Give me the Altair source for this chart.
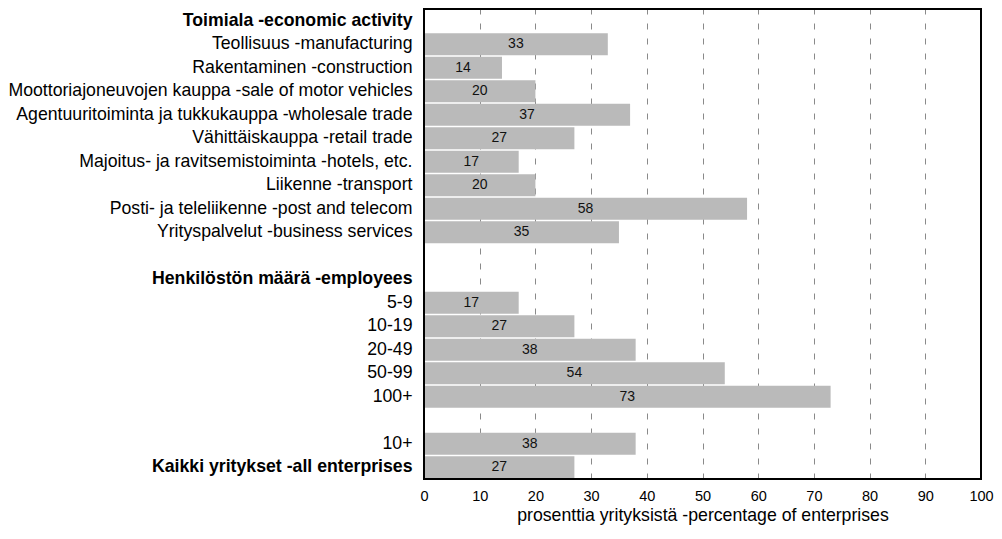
import json
import altair as alt
import pandas as pd

H1 = "Toimiala -economic activity"
H2 = "Henkilöstön määrä -employees"
ALL = "Kaikki yritykset -all enterprises"

activity_labels = [
    "Teollisuus -manufacturing",
    "Rakentaminen -construction",
    "Moottoriajoneuvojen kauppa -sale of motor vehicles",
    "Agentuuritoiminta ja tukkukauppa -wholesale trade",
    "Vähittäiskauppa -retail trade",
    "Majoitus- ja ravitsemistoiminta -hotels, etc.",
    "Liikenne -transport",
    "Posti- ja teleliikenne -post and telecom",
    "Yrityspalvelut -business services",
]
activity_values = [33, 14, 20, 37, 27, 17, 20, 58, 35]

size_labels = ["5-9", "10-19", "20-49", "50-99", "100+"]
size_values = [17, 27, 38, 54, 73]

total_labels = ["10+", ALL]
total_values = [38, 27]

x_ticks = list(range(0, 101, 10))

domain = [H1] + activity_labels + [" "] + [H2] + size_labels + ["  "] + total_labels
bold_labels = [H1, H2, ALL]

df = pd.DataFrame({
    "category": activity_labels + size_labels + total_labels,
    "value": activity_values + size_values + total_values,
})

FONT = "Liberation Sans"

y_enc = alt.Y(
    "category:N",
    sort=domain,
    scale=alt.Scale(domain=domain, paddingInner=0.07, paddingOuter=0.035),
    axis=alt.Axis(
        title=None,
        ticks=False,
        tickSize=0,
        domain=False,
        labelPadding=12,
        labelFontSize=17.7,
        labelFont=FONT,
        labelColor="black",
        labelLimit=0,
        labelFontWeight={
            "condition": {
                "test": f"indexof({json.dumps(bold_labels, ensure_ascii=False)}, datum.value) >= 0",
                "value": "bold",
            },
            "value": "normal",
        },
    ),
)

x_enc = alt.X(
    "value:Q",
    scale=alt.Scale(domain=[0, 100], nice=False),
    axis=alt.Axis(
        values=x_ticks,
        title="prosenttia yrityksistä -percentage of enterprises",
        titleFont=FONT,
        titleFontSize=17.7,
        titleFontWeight="normal",
        titleColor="black",
        titlePadding=4,
        labelFont=FONT,
        labelFontSize=14.5,
        labelColor="black",
        labelPadding=10,
        labelFlush=False,
        labelOverlap=False,
        ticks=False,
        tickSize=0,
        domain=False,
        grid=True,
        gridColor="#8a8a8a",
        gridDash=[6, 9],
        gridWidth=1,
        gridOpacity={
            "condition": {"test": "datum.value == 0 || datum.value == 100", "value": 0},
            "value": 1,
        },
    ),
)

bars = alt.Chart(df).mark_bar(color="#bababa").encode(x=x_enc, y=y_enc)

labels = alt.Chart(df).transform_calculate(mid="datum.value / 2").mark_text(
    font=FONT, fontSize=14, color="#111111", align="center", baseline="middle"
).encode(
    x=alt.X("mid:Q"),
    y=alt.Y("category:N", sort=domain),
    text=alt.Text("value:Q"),
)

frame = alt.Chart(pd.DataFrame({"f": [0]})).mark_rect(
    fill="transparent", stroke="black", strokeWidth=2
).encode(
    x=alt.value(0), x2=alt.value("width"), y=alt.value(0), y2=alt.value("height")
)

chart = alt.layer(bars, labels, frame).properties(
    width=557,
    height=470,
    autosize=alt.AutoSizeParams(type="none"),
    padding={"left": 416, "top": 1, "right": 13, "bottom": 46},
).configure(font=FONT).configure_view(stroke=None)

chart.save("out.html", embed_options={"renderer": "svg", "actions": False})
